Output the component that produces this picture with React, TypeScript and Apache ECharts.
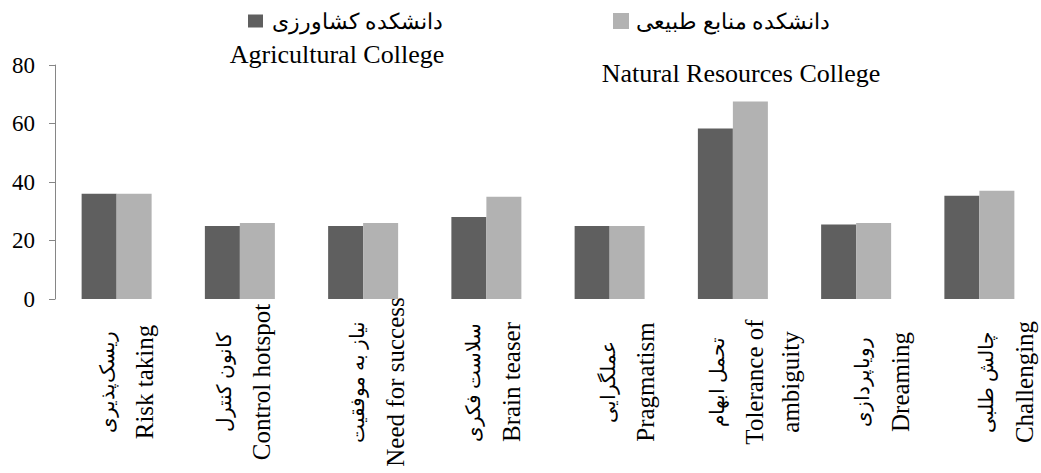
import React, { useEffect, useRef } from "react";
import * as echarts from "echarts";

const categoriesFa = [
  "ریسک‌پذیری",
  "کانون کنترل",
  "نیاز به موفقیت",
  "سلاست فکری",
  "عملگرایی",
  "تحمل ابهام",
  "رویاپردازی",
  "چالش طلبی",
];
const categoriesEn = [
  "Risk taking",
  "Control hotspot",
  "Need for success",
  "Brain teaser",
  "Pragmatism",
  "Tolerance of\nambiguity",
  "Dreaming",
  "Challenging",
];
const seriesNames = ["دانشکده کشاورزی", "دانشکده منابع طبیعی"];
const seriesNamesEn = ["Agricultural College", "Natural Resources College"];
const agricultural = [36, 25, 25, 28, 25, 58.3, 25.5, 35.3];
const naturalResources = [36, 26, 26, 35, 25, 67.5, 26, 37];
const yTicks = { min: 0, max: 80, interval: 20 };

// label horizontal shifts (layout only)
const labelShift = [8, 2, 12, 5, 16, 20, 24, 25];

const SERIF = '"Liberation Serif", "Times New Roman", serif';

export default function App() {
  const ref = useRef<HTMLDivElement>(null);
  useEffect(() => {
    if (!ref.current) return;
    const chart = echarts.init(ref.current, undefined, { renderer: "svg" });
    const xData = categoriesEn.map((en, i) => ({
      value: en,
      textStyle: {
        padding: [labelShift[i] * 2, 0, 0, 0],
        align: "center",
        verticalAlign: "middle",
      },
    }));
    chart.setOption({
      animation: false,
      backgroundColor: "#ffffff",
      grid: {
        left: 55,
        right: 0,
        top: 65,
        bottom: 174,
        containLabel: false,
        outerBoundsMode: "none",
      },
      legend: [
        {
          data: [seriesNames[0]],
          left: 248,
          top: 10,
          padding: 0,
          icon: "rect",
          itemWidth: 15,
          itemHeight: 13,
          textStyle: { fontFamily: SERIF, fontSize: 22, color: "#000", padding: [0, 0, 0, 4] },
        },
        {
          data: [seriesNames[1]],
          left: 613,
          top: 10,
          padding: 0,
          icon: "rect",
          itemWidth: 16,
          itemHeight: 16,
          textStyle: { fontFamily: SERIF, fontSize: 22, color: "#000", padding: [0, 0, 0, 2] },
        },
      ],
      graphic: [
        {
          type: "text",
          x: 337,
          y: 54,
          style: {
            text: seriesNamesEn[0],
            font: `26px ${SERIF}`,
            fill: "#000",
            align: "center",
            verticalAlign: "middle",
            textAlign: "center",
            textVerticalAlign: "middle",
          },
        },
        {
          type: "text",
          x: 741,
          y: 73,
          style: {
            text: seriesNamesEn[1],
            font: `26px ${SERIF}`,
            fill: "#000",
            align: "center",
            verticalAlign: "middle",
            textAlign: "center",
            textVerticalAlign: "middle",
          },
        },
      ],
      xAxis: {
        type: "category",
        data: xData,
        axisLine: { show: false },
        axisTick: { show: false },
        axisLabel: {
          interval: 0,
          rotate: 90,
          margin: 83,
          align: "center",
          verticalAlign: "middle",
          formatter: (value: string, index: number) => {
            const enLines = categoriesEn[index]
              .split("\n")
              .map((l) => `{en|${l}}`)
              .join("\n");
            return `{fa|${categoriesFa[index]}}\n${enLines}`;
          },
          rich: {
            fa: {
              fontFamily: SERIF,
              fontSize: 20,
              lineHeight: 40,
              color: "#000",
            },
            en: {
              fontFamily: SERIF,
              fontSize: 25,
              lineHeight: 36,
              color: "#000",
            },
          },
        },
      },
      yAxis: {
        type: "value",
        min: yTicks.min,
        max: yTicks.max,
        interval: yTicks.interval,
        axisLine: { show: true, lineStyle: { color: "#868686", width: 1 } },
        axisTick: {
          show: true,
          length: 6,
          lineStyle: { color: "#868686", width: 1 },
        },
        splitLine: { show: false },
        axisLabel: {
          margin: 20,
          fontFamily: SERIF,
          fontSize: 23,
          color: "#000",
        },
      },
      series: [
        {
          name: seriesNames[0],
          type: "bar",
          data: agricultural,
          barWidth: 35,
          barGap: "0%",
          itemStyle: { color: "#5f5f5f" },
        },
        {
          name: seriesNames[1],
          type: "bar",
          data: naturalResources,
          barWidth: 35,
          barGap: "0%",
          itemStyle: { color: "#b2b2b2" },
        },
      ],
    });
    return () => chart.dispose();
  }, []);
  return (
    <div
      ref={ref}
      style={{
        position: "fixed",
        left: 0,
        top: 0,
        width: 1041,
        height: 473,
        background: "#fff",
      }}
    />
  );
}
